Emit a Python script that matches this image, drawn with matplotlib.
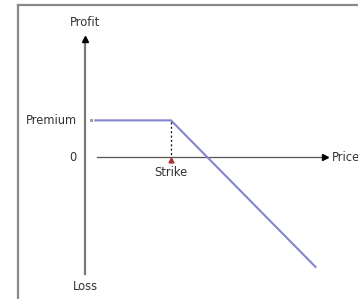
import matplotlib
matplotlib.use("Agg")
import matplotlib.pyplot as plt
from matplotlib.lines import Line2D

# payoff of a short call
price = [6, 50, 134]
profit = [21, 21, -63]
strike = 50
premium = 21

fig = plt.figure(figsize=(3.58, 2.99), dpi=100)
ax = fig.add_axes([0, 0, 1, 1])
ax.set_xlim(-49.4, 158.7)
ax.set_ylim(-81.4, 90.0)
ax.axis("off")

# outer frame (left and top edges only visible)
fig.add_artist(Line2D([18 / 358, 18 / 358], [0, 1 - 5 / 299], color="#8a8a8a", lw=1.6))
fig.add_artist(Line2D([18 / 358, 1], [1 - 5 / 299, 1 - 5 / 299], color="#8a8a8a", lw=1.6))

# axes with arrows
ax.plot([0, 0], [-67, 66], color="#7a7a7a", lw=1.6)
ax.plot(0, 67.5, marker="^", color="black", ms=5)
ax.plot([7, 138], [0, 0], color="#555555", lw=0.9)
ax.plot(139.5, 0, marker=">", color="black", ms=5)

# payoff line
ax.plot(price, profit, color="#8585cc", lw=1.5)
ax.plot(3.5, premium, marker="s", color="#999999", ms=1.2)
ax.plot([strike, strike], [premium - 1, 0], color="black", lw=0.9, ls=(0, (1.5, 2)))
ax.plot(strike, -2, marker="^", color="#b03030", ms=3.5)

fs = 8.3
tc = "#333333"
ax.text(0, 77, "Profit", ha="center", va="center", fontsize=fs, color=tc)
ax.text(0, -74.5, "Loss", ha="center", va="center", fontsize=fs, color=tc)
ax.text(-4.5, premium, "Premium", ha="right", va="center", fontsize=fs, color=tc)
ax.text(-7, 0, "0", ha="center", va="center", fontsize=fs, color=tc)
ax.text(strike, -8.8, "Strike", ha="center", va="center", fontsize=fs, color=tc)
ax.text(143.6, 0, "Price", ha="left", va="center", fontsize=fs, color=tc)

fig.savefig("out.png", dpi=100)
